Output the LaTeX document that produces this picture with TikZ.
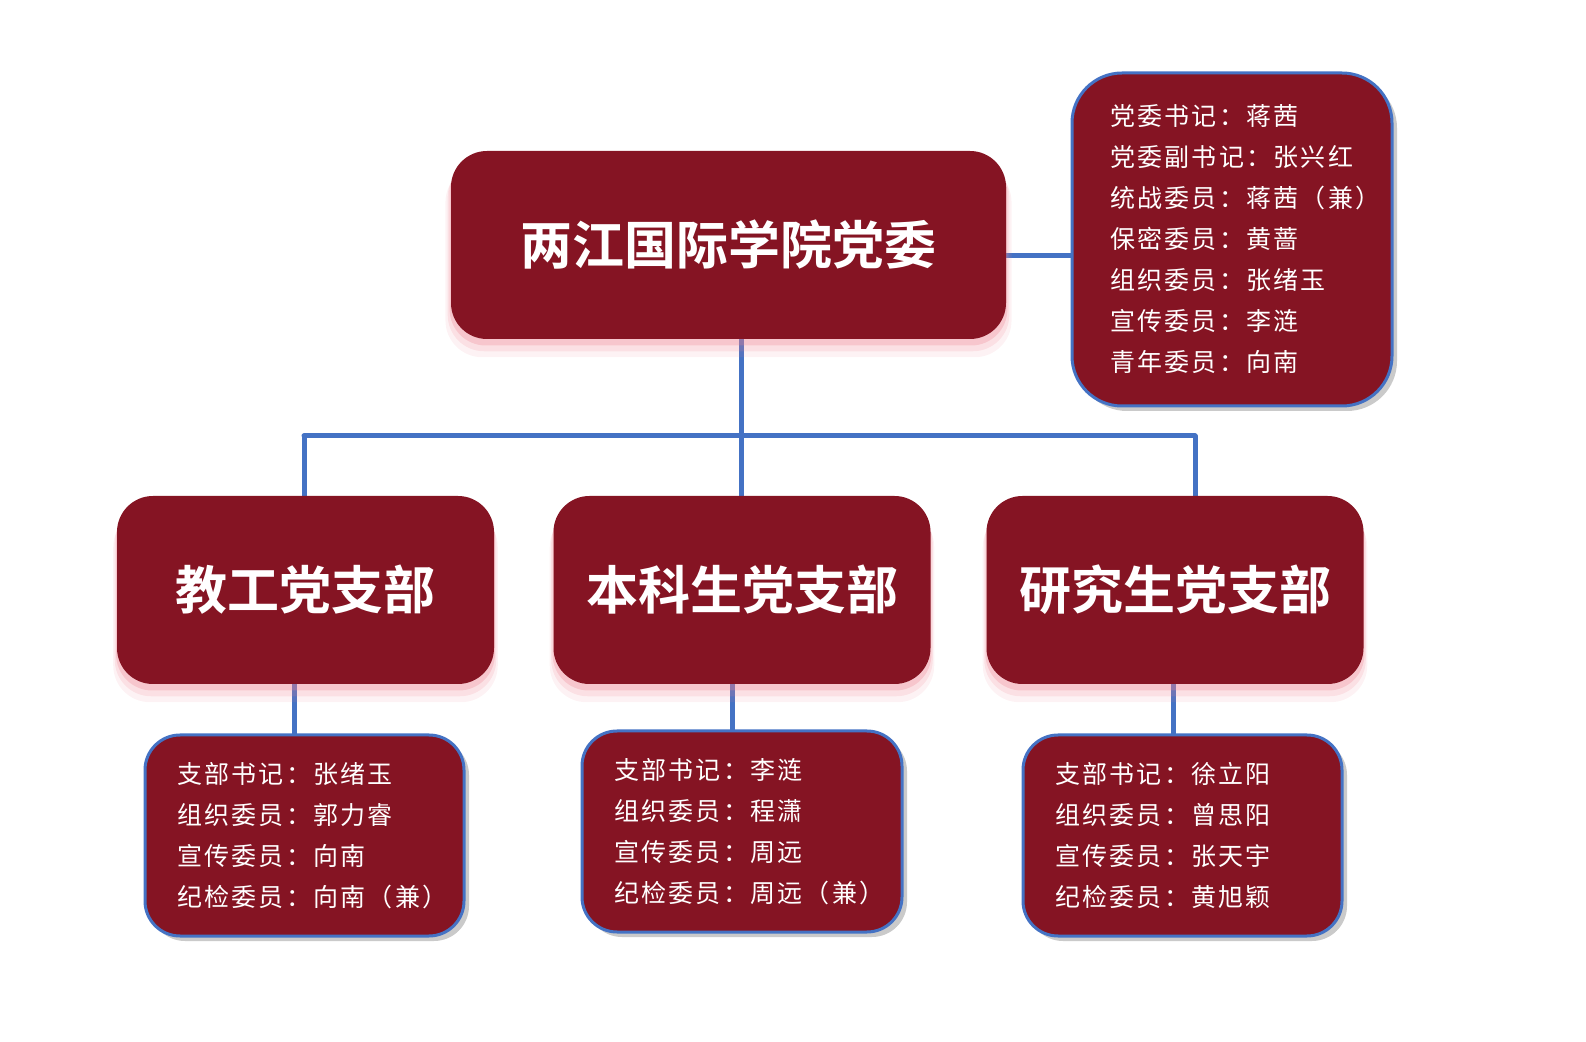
\documentclass[tikz,border=0pt]{standalone}
\usepackage{fontspec}
\setmainfont{Noto Sans CJK SC}[BoldFont={Noto Sans CJK SC Bold}]
\newfontfamily\listfont{Noto Sans CJK SC}[LetterSpace=9]
\usetikzlibrary{shadows,calc,backgrounds}
\definecolor{boxred}{HTML}{851423}
\definecolor{connblue}{HTML}{4472C4}
\definecolor{glowc}{HTML}{EE8290}
\tikzset{
  glow/.style={
    general shadow={fill=glowc,opacity=0.10,shadow yshift=-8pt,shadow scale=1.02},
    general shadow={fill=glowc,opacity=0.16,shadow yshift=-5.5pt,shadow scale=1.012},
    general shadow={fill=glowc,opacity=0.28,shadow yshift=-3pt,shadow scale=1.005}},
  mainbox/.style={fill=boxred, rounded corners=18pt, text=white, inner sep=0pt,
    font=\bfseries\fontsize{26}{30}\selectfont, glow},
  listbox/.style={fill=boxred, draw=connblue, line width=1.5pt, text=white,
    align=left, inner ysep=0pt, font=\listfont\fontsize{12.5}{20.5}\selectfont,
    drop shadow={shadow xshift=2.5pt,shadow yshift=-2.5pt,opacity=0.35,fill=black!60}},
  conn/.style={draw=connblue, line width=2.5pt, line cap=round}
}
\begin{document}
\begin{tikzpicture}[x=0.5pt,y=-0.5pt]
\useasboundingbox (0,0) rectangle (1586,1042);
% main nodes
\node[mainbox, minimum width=277.5pt, minimum height=94pt] (top) at (728.5,245) {两江国际学院党委};
\node[mainbox, minimum width=188.5pt, minimum height=94pt] (b1) at (305.5,590) {教工党支部};
\node[mainbox, minimum width=188.5pt, minimum height=94pt] (b2) at (742,590) {本科生党支部};
\node[mainbox, minimum width=188.5pt, minimum height=94pt] (b3) at (1175,590) {研究生党支部};
% list boxes
\node[listbox, rounded corners=25pt, minimum width=160pt, minimum height=166.5pt,
  text width=122pt, inner xsep=19pt] (info) at (1232,239.5)
  {党委书记：蒋茜\\党委副书记：张兴红\\统战委员：蒋茜（兼）\\保密委员：黄蔷\\组织委员：张绪玉\\宣传委员：李涟\\青年委员：向南};
\node[listbox, rounded corners=17.5pt, minimum width=159.5pt, minimum height=100.5pt,
  text width=127.5pt, inner xsep=16pt] (s1) at (304.5,835.5)
  {支部书记：张绪玉\\组织委员：郭力睿\\宣传委员：向南\\纪检委员：向南（兼）};
\node[listbox, rounded corners=17.5pt, minimum width=160pt, minimum height=100.5pt,
  text width=128pt, inner xsep=16pt] (s2) at (742,831.5)
  {支部书记：李涟\\组织委员：程潇\\宣传委员：周远\\纪检委员：周远（兼）};
\node[listbox, rounded corners=17.5pt, minimum width=159.5pt, minimum height=100.5pt,
  text width=127.5pt, inner xsep=16pt] (s3) at (1182.5,835.5)
  {支部书记：徐立阳\\组织委员：曾思阳\\宣传委员：张天宇\\纪检委员：黄旭颖};
% helper coordinates
\coordinate (yTR) at (0,256);
\coordinate (jx) at (741,436);
\coordinate (barL) at (304,436);
\coordinate (barR) at (1195,436);
\coordinate (d1) at (294,0);
\coordinate (d2) at (732,0);
\coordinate (d3) at (1173,0);
\begin{pgfonlayer}{background}
\draw[conn] (top.east |- yTR) -- (info.west |- yTR);
\draw[conn] (top.south -| jx) -- (jx);
\draw[conn] (barL) -- (barR);
\draw[conn] (barL) -- (b1.north -| barL);
\draw[conn] (jx) -- (b2.north -| jx);
\draw[conn] (barR) -- (b3.north -| barR);
\draw[conn] (b1.south -| d1) -- (s1.north -| d1);
\draw[conn] (b2.south -| d2) -- (s2.north -| d2);
\draw[conn] (b3.south -| d3) -- (s3.north -| d3);
\end{pgfonlayer}
\end{tikzpicture}
\end{document}
